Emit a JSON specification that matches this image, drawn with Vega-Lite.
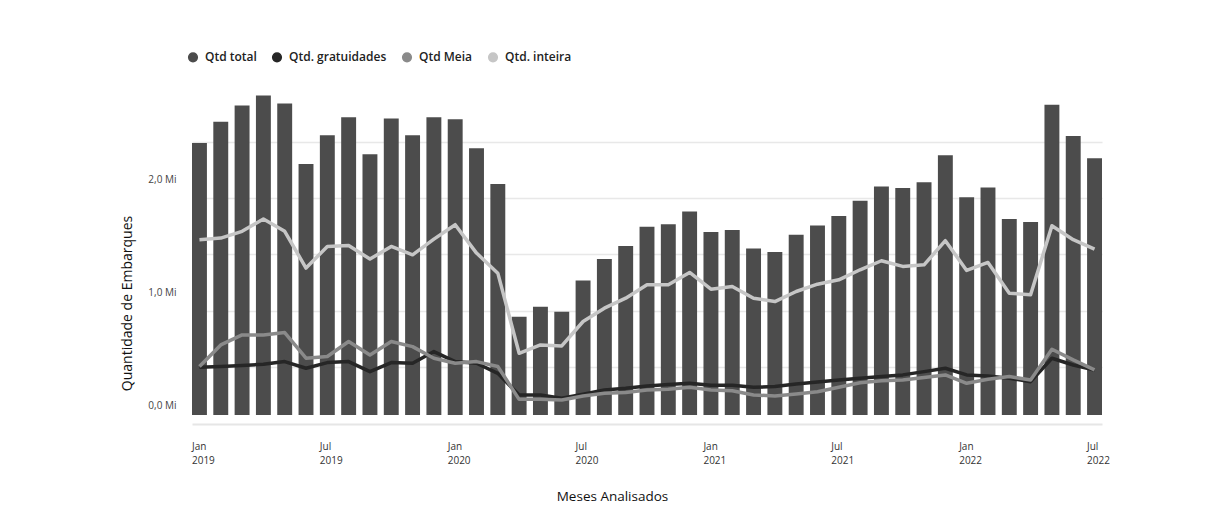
{
  "$schema": "https://vega.github.io/schema/vega-lite/v6.json",
  "autosize": {"type": "none"},
  "width": 910,
  "height": 338,
  "padding": {"left": 192, "top": 77, "right": 112, "bottom": 97},
  "background": "#ffffff",
  "config": {
    "view": {"stroke": null},
    "font": "Open Sans"
  },
  "data": {
    "values": [
      {"mes": "2019-01", "total": 2415000, "gratuidades": 424000, "meia": 430000, "inteira": 1556000},
      {"mes": "2019-02", "total": 2602000, "gratuidades": 430000, "meia": 622000, "inteira": 1570000},
      {"mes": "2019-03", "total": 2747000, "gratuidades": 439000, "meia": 711000, "inteira": 1630000},
      {"mes": "2019-04", "total": 2836000, "gratuidades": 450000, "meia": 711000, "inteira": 1739000},
      {"mes": "2019-05", "total": 2764000, "gratuidades": 474000, "meia": 732000, "inteira": 1630000},
      {"mes": "2019-06", "total": 2228000, "gratuidades": 415000, "meia": 504000, "inteira": 1304000},
      {"mes": "2019-07", "total": 2483000, "gratuidades": 465000, "meia": 519000, "inteira": 1496000},
      {"mes": "2019-08", "total": 2643000, "gratuidades": 474000, "meia": 652000, "inteira": 1505000},
      {"mes": "2019-09", "total": 2314000, "gratuidades": 385000, "meia": 533000, "inteira": 1384000},
      {"mes": "2019-10", "total": 2631000, "gratuidades": 465000, "meia": 652000, "inteira": 1496000},
      {"mes": "2019-11", "total": 2483000, "gratuidades": 459000, "meia": 607000, "inteira": 1422000},
      {"mes": "2019-12", "total": 2643000, "gratuidades": 563000, "meia": 504000, "inteira": 1561000},
      {"mes": "2020-01", "total": 2625000, "gratuidades": 474000, "meia": 459000, "inteira": 1689000},
      {"mes": "2020-02", "total": 2367000, "gratuidades": 459000, "meia": 474000, "inteira": 1437000},
      {"mes": "2020-03", "total": 2051000, "gratuidades": 370000, "meia": 430000, "inteira": 1259000},
      {"mes": "2020-04", "total": 871000, "gratuidades": 178000, "meia": 139000, "inteira": 548000},
      {"mes": "2020-05", "total": 960000, "gratuidades": 178000, "meia": 139000, "inteira": 622000},
      {"mes": "2020-06", "total": 916000, "gratuidades": 148000, "meia": 133000, "inteira": 613000},
      {"mes": "2020-07", "total": 1194000, "gratuidades": 184000, "meia": 169000, "inteira": 830000},
      {"mes": "2020-08", "total": 1384000, "gratuidades": 222000, "meia": 193000, "inteira": 948000},
      {"mes": "2020-09", "total": 1500000, "gratuidades": 237000, "meia": 199000, "inteira": 1037000},
      {"mes": "2020-10", "total": 1671000, "gratuidades": 258000, "meia": 222000, "inteira": 1156000},
      {"mes": "2020-11", "total": 1692000, "gratuidades": 270000, "meia": 228000, "inteira": 1156000},
      {"mes": "2020-12", "total": 1807000, "gratuidades": 281000, "meia": 246000, "inteira": 1265000},
      {"mes": "2021-01", "total": 1624000, "gratuidades": 264000, "meia": 222000, "inteira": 1117000},
      {"mes": "2021-02", "total": 1642000, "gratuidades": 264000, "meia": 216000, "inteira": 1141000},
      {"mes": "2021-03", "total": 1478000, "gratuidades": 246000, "meia": 178000, "inteira": 1037000},
      {"mes": "2021-04", "total": 1446000, "gratuidades": 252000, "meia": 169000, "inteira": 1007000},
      {"mes": "2021-05", "total": 1600000, "gratuidades": 276000, "meia": 187000, "inteira": 1096000},
      {"mes": "2021-06", "total": 1683000, "gratuidades": 293000, "meia": 207000, "inteira": 1161000},
      {"mes": "2021-07", "total": 1766000, "gratuidades": 311000, "meia": 246000, "inteira": 1200000},
      {"mes": "2021-08", "total": 1902000, "gratuidades": 326000, "meia": 287000, "inteira": 1289000},
      {"mes": "2021-09", "total": 2029000, "gratuidades": 341000, "meia": 305000, "inteira": 1369000},
      {"mes": "2021-10", "total": 2015000, "gratuidades": 356000, "meia": 311000, "inteira": 1319000},
      {"mes": "2021-11", "total": 2065000, "gratuidades": 385000, "meia": 332000, "inteira": 1333000},
      {"mes": "2021-12", "total": 2305000, "gratuidades": 415000, "meia": 356000, "inteira": 1547000},
      {"mes": "2022-01", "total": 1932000, "gratuidades": 356000, "meia": 281000, "inteira": 1283000},
      {"mes": "2022-02", "total": 2020000, "gratuidades": 347000, "meia": 317000, "inteira": 1354000},
      {"mes": "2022-03", "total": 1740000, "gratuidades": 326000, "meia": 341000, "inteira": 1081000},
      {"mes": "2022-04", "total": 1713000, "gratuidades": 296000, "meia": 311000, "inteira": 1067000},
      {"mes": "2022-05", "total": 2753000, "gratuidades": 504000, "meia": 584000, "inteira": 1680000},
      {"mes": "2022-06", "total": 2477000, "gratuidades": 444000, "meia": 489000, "inteira": 1556000},
      {"mes": "2022-07", "total": 2278000, "gratuidades": 400000, "meia": 400000, "inteira": 1473000}
    ]
  },
  "encoding": {
    "x": {
      "field": "mes",
      "type": "ordinal",
      "scale": {"paddingInner": 0.3, "paddingOuter": 0},
      "axis": {
        "title": "Meses Analisados",
        "titleFont": "Open Sans",
        "titleFontSize": 13.5,
        "titleFontWeight": "normal",
        "titleColor": "#111111",
        "titleX": 420,
        "titleY": 72,
        "titleAlign": "center",
        "titleBaseline": "middle",
        "values": ["2019-01", "2019-07", "2020-01", "2020-07", "2021-01", "2021-07", "2022-01", "2022-07"],
        "labelExpr": "[substring(datum.value, 5, 7) == '01' ? 'Jan' : 'Jul', substring(datum.value, 0, 4)]",
        "labelAlign": "left",
        "labelBaseline": "top",
        "labelAngle": 0,
        "labelOffset": -7.5,
        "labelPadding": 17,
        "labelFont": "Open Sans",
        "labelFontSize": 10,
        "labelLineHeight": 14,
        "labelColor": "#333333",
        "labelOverlap": false,
        "labelBound": false,
        "ticks": false,
        "grid": false,
        "offset": 9,
        "domainColor": "#e6e6e6",
        "domainWidth": 2
      }
    }
  },
  "layer": [
    {
      "mark": {"type": "bar"},
      "encoding": {
        "y": {
          "field": "total",
          "type": "quantitative",
          "scale": {"domain": [0, 3000000], "nice": false},
          "axis": {
            "orient": "left",
            "title": null,
            "labels": false,
            "ticks": false,
            "domain": false,
            "grid": true,
            "gridColor": "#e8e8e8",
            "gridWidth": 1.5,
            "values": [425000, 925000, 1425000, 1925000, 2425000]
          }
        },
        "color": {
          "datum": "total",
          "scale": {
            "domain": ["total", "gratuidades", "meia", "inteira"],
            "range": ["#4c4c4c", "#262626", "#8a8a8a", "#c6c6c6"]
          }
        }
      }
    },
    {
      "transform": [
        {"fold": ["gratuidades", "meia", "inteira"], "as": ["serie", "valor"]}
      ],
      "mark": {"type": "line", "strokeWidth": 3.5, "strokeJoin": "round"},
      "encoding": {
        "y": {
          "field": "valor",
          "type": "quantitative",
          "scale": {"domain": [0, 3000000], "nice": false},
          "axis": {
            "orient": "left",
            "title": "Quantidade de Embarques",
            "titleFont": "Open Sans",
            "titleFontSize": 14,
            "titleFontWeight": "normal",
            "titleColor": "#111111",
            "titleX": -65,
            "titleY": 226,
            "titleAlign": "center",
            "titleBaseline": "middle",
            "values": [0, 1000000, 2000000],
            "labelExpr": "replace(format(datum.value / 1000000, '.1f'), '.', ',') + ' Mi'",
            "labelFont": "Open Sans",
            "labelFontSize": 10,
            "labelColor": "#444444",
            "labelPadding": 16,
            "labelOffset": -10,
            "ticks": false,
            "domain": false,
            "grid": false
          }
        },
        "color": {
          "field": "serie",
          "type": "nominal",
          "scale": {
            "domain": ["total", "gratuidades", "meia", "inteira"],
            "range": ["#4c4c4c", "#262626", "#8a8a8a", "#c6c6c6"]
          },
          "legend": {
            "title": null,
            "orient": "none",
            "legendX": -5,
            "legendY": -26,
            "direction": "horizontal",
            "columns": 4,
            "columnPadding": 12,
            "symbolType": "circle",
            "symbolSize": 75,
            "labelOffset": 6,
            "labelFont": "Open Sans",
            "labelFontSize": 12,
            "labelFontWeight": 600,
            "labelColor": "#222222",
            "labelExpr": "{'total': 'Qtd total', 'gratuidades': 'Qtd. gratuidades', 'meia': 'Qtd Meia', 'inteira': 'Qtd. inteira'}[datum.label]",
            "encode": {
              "symbols": {
                "update": {
                  "fill": {"scale": "color", "field": "value"},
                  "stroke": {"value": "transparent"},
                  "shape": {"value": "circle"},
                  "opacity": {"value": 1}
                }
              }
            }
          }
        }
      }
    }
  ],
  "resolve": {"axis": {"y": "independent"}}
}
